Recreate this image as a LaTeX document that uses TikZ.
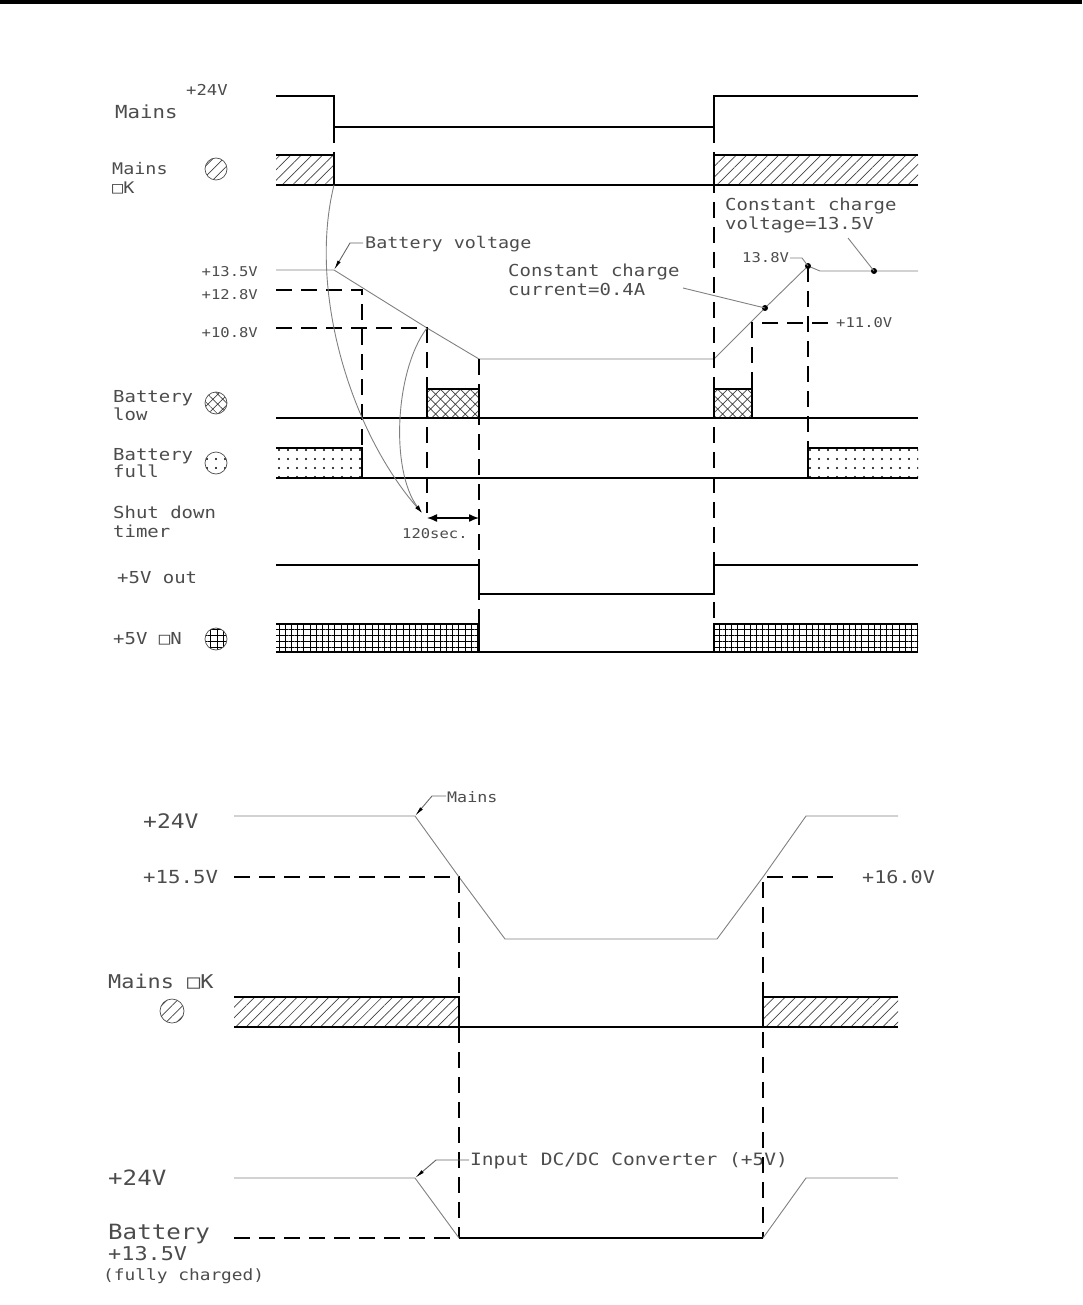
\documentclass[tikz,border=0pt]{standalone}
\usepackage{fontspec}
\setmainfont[FakeStretch=1.15]{DejaVu Sans Mono}
\usetikzlibrary{arrows.meta,patterns.meta,positioning}
\tikzstyle{sig}=[line width=1.4pt]
\tikzstyle{trace}=[line width=0.9pt,black!50]
\tikzstyle{lvl}=[line width=1.4pt,dash pattern=on 16pt off 9pt]
\tikzstyle{lead}=[line width=0.9pt,black!60,{Latex[length=10pt,width=3.5pt,color=black]}-]
\tikzstyle{lbl}=[inner sep=0pt,anchor=base west,text=black!70]
\tikzstyle{sym}=[draw=black!70,line width=0.7pt]
\tikzstyle{okfill}=[pattern={Lines[angle=45,distance=7.5pt,line width=0.7pt]},pattern color=black!75]
\tikzstyle{lowfill}=[pattern={Hatch[angle=45,distance=7pt,line width=0.7pt]},pattern color=black!75]
\tikzstyle{fullfill}=[pattern={Dots[distance=9pt,radius=1.1pt]},pattern color=black]
\tikzstyle{onfill}=[pattern={Hatch[angle=0,distance=6.2pt,line width=0.8pt]},pattern color=black]
\newcommand\fs[1]{\fontsize{#1}{#1}\selectfont}

\begin{document}
\begin{tikzpicture}[x=1pt,y=-1pt]
\useasboundingbox (0,0) rectangle (1082,1305);
\draw[line width=4pt] (0,2) -- (1082,2);

% upper chart: labels
\node (v24) [lbl,font=\fs{15}] at (186,96) {+24V};
\node (mains) [lbl,font=\fs{18}] at (115,119) {Mains};
\node (ok1) [lbl,font=\fs{16}] at (112,175) {Mains};
\node (ok2) [lbl,font=\fs{16}] at (112,194) {□K};
\node (low1) [lbl,font=\fs{16.5}] at (113,402) {Battery};
\node (low2) [lbl,font=\fs{16.5}] at (113,420) {low};
\node (full1) [lbl,font=\fs{16.5}] at (113,460) {Battery};
\node (full2) [lbl,font=\fs{16.5}] at (113,477) {full};
\node (sd1) [lbl,font=\fs{16.5}] at (113,518) {Shut down};
\node (sd2) [lbl,font=\fs{16.5}] at (113,537) {timer};
\node (out) [lbl,font=\fs{16.5}] at (117,583) {+5V out};
\node (on) [lbl,font=\fs{16.5}] at (113,644) {+5V □N};
\node (u135) [lbl,anchor=base east,font=\fs{13.5}] at (258,277) {+13.5V};
\node (u128) [lbl,anchor=base east,font=\fs{13.5}] at (258,299) {+12.8V};
\node (u108) [lbl,anchor=base east,font=\fs{13.5}] at (258,337) {+10.8V};
\node (bv) [lbl,font=\fs{16}] at (365,249) {Battery voltage};
\node (cc1) [lbl,font=\fs{16.5}] at (508,277) {Constant charge};
\node (cc2) [lbl,font=\fs{16.5}] at (508,295) {current=0.4A};
\node (cv1) [lbl,font=\fs{16.5}] at (725,211) {Constant charge};
\node (cv2) [lbl,font=\fs{16.5}] at (725,230) {voltage=13.5V};
\node (u138) [lbl,font=\fs{13.5}] at (742,263) {13.8V};
\node (u110) [lbl,font=\fs{13.5}] at (836,327) {+11.0V};
\node (sec) [lbl,font=\fs{13.5}] at (402,538) {120sec.};

% symbols
\draw[sym,okfill] (216,169) circle[radius=11pt];
\draw[sym,lowfill] (216,403) circle[radius=11pt];
\draw[sym,fullfill] (216,463) circle[radius=11pt];
\draw[sym,onfill] (216,639) circle[radius=11pt];

% battery voltage trace
\coordinate (b0) at (334,270);
\coordinate (b1) at (427,328);
\coordinate (b2) at (479,359);
\coordinate (b3) at (714,359);
\coordinate (b4) at (765,308);
\coordinate (b5) at (808,266);
\coordinate (b6) at (820,271);
\coordinate (b7) at (874,271);
\draw[trace] (276,270) -- (b0) -- (b1) -- (b2) -- (b3) -- (b4) -- (b5) -- (b6) -- (918,271);
\foreach \p in {b4,b5,b7} \fill (\p) circle[radius=3pt];
\draw[lead] (b0) -- (350,243) -- (363,243);
\draw[trace] (683,288) -- (b4);
\draw[trace] (848,238) -- (b7);
\draw[trace] (790,258) -- (802,258) -- (b5);

% threshold levels
\draw[lvl] (276,290) -- (362,290) -- (362,448);
\draw[lvl] (276,328) -- (b1) -- (427,513);
\draw[lvl] (828,323) -- (752,323) -- (752,389);
\draw[lvl] (b5) -- (808,448);
\draw[lvl] (334,127) -- (334,185);
\draw[lvl] (b2) -- (479,624);
\draw[lvl] (714,127) -- (714,624);

% signals
\draw[sig] (276,96) -- (334,96) -- (334,127) -- (714,127) -- (714,96) -- (918,96);
\fill[okfill] (276,155) rectangle (334,185);
\fill[okfill] (714,155) rectangle (918,185);
\draw[sig] (276,155) -- (334,155) -- (334,185);
\draw[sig] (918,155) -- (714,155) -- (714,185);
\draw[sig] (276,185) -- (918,185);
\fill[lowfill] (427,389) rectangle (479,418);
\fill[lowfill] (714,389) rectangle (752,418);
\draw[sig] (427,418) -- (427,389) -- (479,389) -- (479,418);
\draw[sig] (714,418) -- (714,389) -- (752,389) -- (752,418);
\draw[sig] (276,418) -- (918,418);
\fill[fullfill] (276,448) rectangle (362,478);
\fill[fullfill] (808,448) rectangle (918,478);
\draw[sig] (276,448) -- (362,448) -- (362,478);
\draw[sig] (918,448) -- (808,448) -- (808,478);
\draw[sig] (276,478) -- (918,478);
\draw[sig,{Latex[length=10pt,width=8pt]}-{Latex[length=10pt,width=8pt]}] (427,518) -- (479,518);
\draw[sig] (276,565) -- (479,565) -- (479,594) -- (714,594) -- (714,565) -- (918,565);
\fill[onfill] (276,624) rectangle (479,652);
\fill[onfill] (714,624) rectangle (918,652);
\draw[sig] (276,624) -- (479,624) -- (479,652);
\draw[sig] (918,624) -- (714,624) -- (714,652);
\draw[sig] (276,652) -- (918,652);
\draw[trace,-{Latex[length=8pt,width=4pt,color=black]}] (334,185) .. controls (308,290) and (350,430) .. (422,513);
\draw[trace,-{Latex[length=8pt,width=4pt,color=black]}] (b1) .. controls (395,370) and (390,470) .. (422,513);

% lower chart
\node (w24) [lbl,font=\fs{20}] at (143,828) {+24V};
\node (w155) [lbl,font=\fs{18}] at (143,883) {+15.5V};
\node (w160) [lbl,font=\fs{17.5}] at (862,883) {+16.0V};
\node (wok) [lbl,font=\fs{19}] at (108,988) {Mains □K};
\node (wm) [lbl,font=\fs{14.5}] at (447,802) {Mains};
\node (x24) [lbl,font=\fs{21}] at (108,1185) {+24V};
\node (xb) [lbl,font=\fs{21}] at (108,1239) {Battery};
\node (x135) [lbl,font=\fs{19}] at (108,1260) {+13.5V};
\node (xfc) [lbl,font=\fs{15.5}] at (103,1280) {(fully charged)};
\node (xin) [lbl,font=\fs{17}] at (470,1165) {Input DC/DC Converter (+5V)};
\draw[sym,okfill] (172,1011) circle[radius=12pt];

\coordinate (m0) at (415,816);
\coordinate (m1) at (459,877);
\coordinate (m2) at (505,939);
\coordinate (m3) at (717,939);
\coordinate (m4) at (763,877);
\coordinate (m5) at (806,816);
\draw[trace] (234,816) -- (m0) -- (m1) -- (m2) -- (m3) -- (m4) -- (m5) -- (898,816);
\draw[lead] (m0) -- (432,796) -- (446,796);
\draw[lvl] (234,877) -- (m1) -- (459,1238);
\draw[lvl] (833,877) -- (m4) -- (763,1238);
\fill[okfill] (234,997) rectangle (459,1027);
\fill[okfill] (763,997) rectangle (898,1027);
\draw[sig] (234,997) -- (459,997) -- (459,1027);
\draw[sig] (898,997) -- (763,997) -- (763,1027);
\draw[sig] (234,1027) -- (898,1027);

\coordinate (d0) at (415,1178);
\coordinate (d1) at (459,1238);
\coordinate (d2) at (763,1238);
\coordinate (d3) at (806,1178);
\draw[trace] (234,1178) -- (d0) -- (d1);
\draw[sig] (d1) -- (d2);
\draw[trace] (d2) -- (d3) -- (898,1178);
\draw[lvl] (234,1238) -- (d1);
\draw[lead] (d0) -- (436,1160) -- (469,1160);
\end{tikzpicture}
\end{document}
